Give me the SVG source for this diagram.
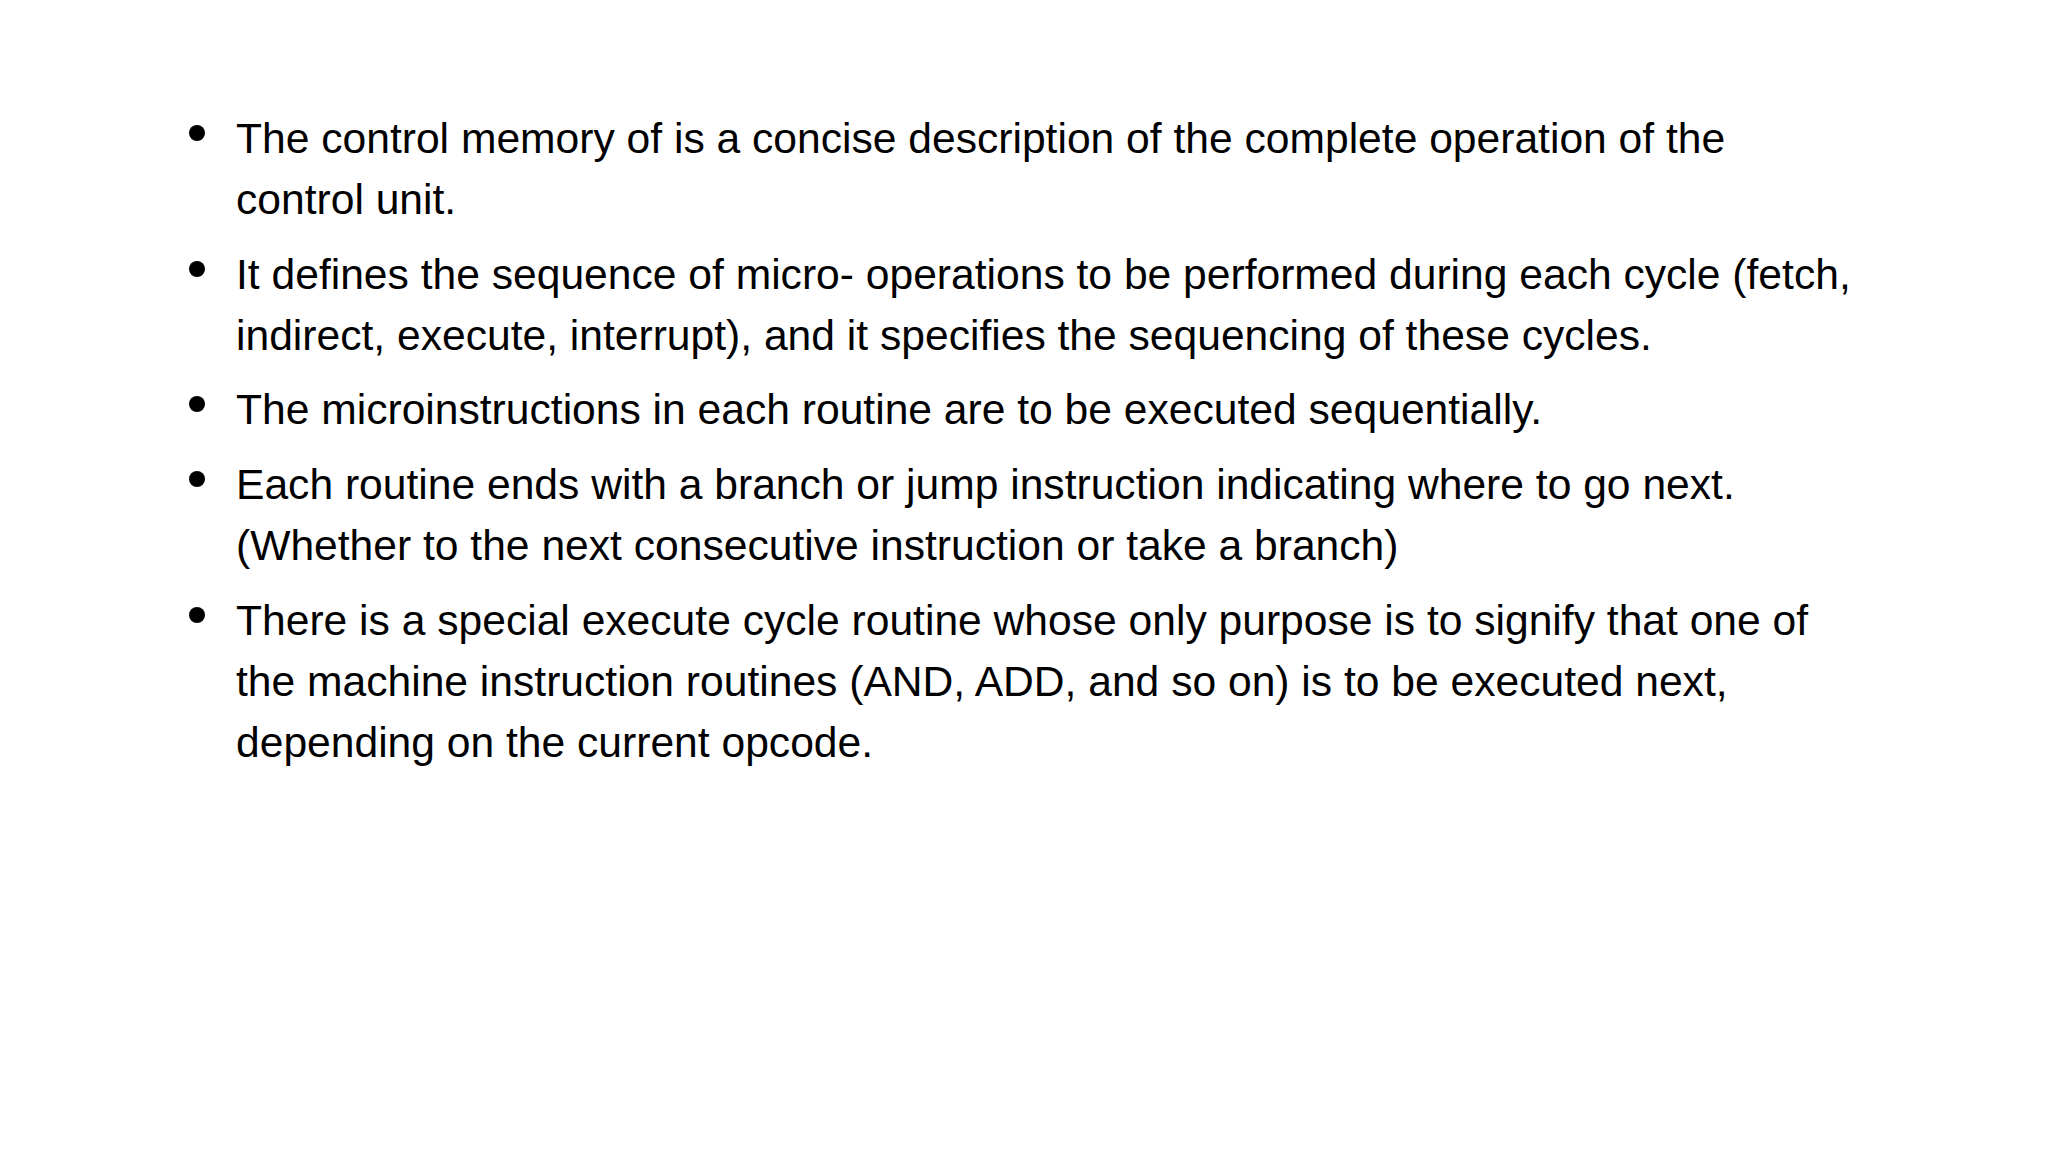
<svg xmlns="http://www.w3.org/2000/svg" width="2048" height="1152" viewBox="0 0 2048 1152">
<style>text{font-family:"Liberation Sans",Arial,sans-serif;font-size:42.6px;fill:#000}</style>
<rect width="2048" height="1152" fill="#fff"/>
<g id="bullets" fill="#000">
<circle cx="197" cy="133" r="8"/>
<circle cx="197" cy="269" r="8"/>
<circle cx="197" cy="404" r="8"/>
<circle cx="197" cy="479" r="8"/>
<circle cx="197" cy="615" r="8"/>
</g>
<g id="text">
<text x="236" y="153">The control memory of is a concise description of the complete operation of the</text>
<text x="236" y="214">control unit.</text>
<text x="236" y="289">It defines the sequence of micro- operations to be performed during each cycle (fetch,</text>
<text x="236" y="350">indirect, execute, interrupt), and it specifies the sequencing of these cycles.</text>
<text x="236" y="424">The microinstructions in each routine are to be executed sequentially.</text>
<text x="236" y="499">Each routine ends with a branch or jump instruction indicating where to go next.</text>
<text x="236" y="560">(Whether to the next consecutive instruction or take a branch)</text>
<text x="236" y="635">There is a special execute cycle routine whose only purpose is to signify that one of</text>
<text x="236" y="696">the machine instruction routines (AND, ADD, and so on) is to be executed next,</text>
<text x="236" y="757">depending on the current opcode.</text>
</g>
</svg>
